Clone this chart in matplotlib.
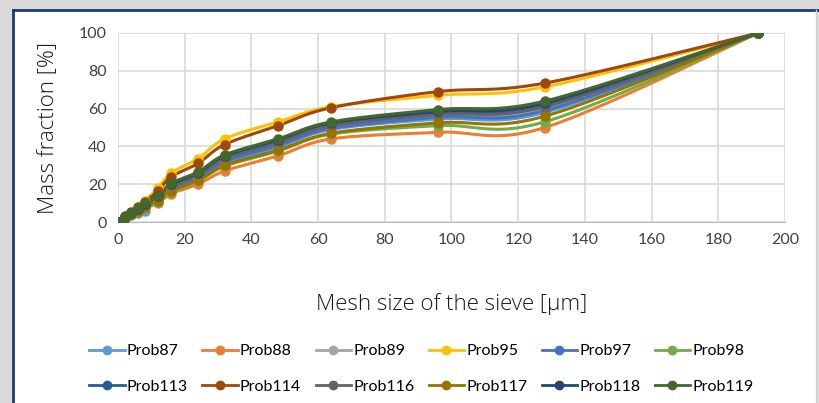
import numpy as np
import matplotlib
matplotlib.use("Agg")
import matplotlib.pyplot as plt
from matplotlib.patches import Rectangle

# ---- data ----
mesh = [0, 2, 4, 6, 8, 12, 16, 24, 32, 48, 64, 96, 128, 192]

series_names = ["Prob87", "Prob88", "Prob89", "Prob95", "Prob97", "Prob98",
                "Prob113", "Prob114", "Prob116", "Prob117", "Prob118", "Prob119"]

prob87  = [0, 2.0, 3.5, 4.5, 6.0, 11.5, 17.0, 23.0, 31.0, 39.5, 49.0, 54.5, 58.0, 100]
prob88  = [0, 2.0, 4.0, 5.5, 7.5, 10.0, 15.0, 20.0, 27.0, 35.0, 44.0, 47.5, 50.0, 100]
prob89  = [0, 2.5, 4.5, 6.5, 9.0, 12.5, 18.0, 24.0, 32.5, 41.0, 50.0, 56.0, 60.0, 100]
prob95  = [0, 3.0, 5.5, 8.0, 11.0, 18.0, 26.0, 33.5, 44.0, 53.0, 61.0, 67.0, 71.5, 100]
prob97  = [0, 2.5, 4.5, 6.5, 8.5, 12.0, 17.5, 23.5, 32.0, 40.5, 49.5, 55.5, 59.0, 100]
prob98  = [0, 2.0, 4.0, 6.0, 8.0, 10.5, 16.0, 21.5, 29.5, 37.5, 46.5, 51.0, 53.0, 100]
prob113 = [0, 2.5, 4.5, 7.0, 9.5, 13.5, 19.5, 25.5, 34.5, 43.0, 52.0, 58.0, 62.0, 100]
prob114 = [0, 3.0, 5.5, 8.0, 10.5, 16.5, 24.0, 31.0, 41.0, 51.0, 60.5, 69.0, 73.5, 100]
prob116 = [0, 2.5, 4.5, 6.5, 9.0, 13.0, 19.0, 25.0, 33.5, 42.0, 51.0, 57.0, 61.0, 100]
prob117 = [0, 2.0, 4.0, 6.0, 8.0, 11.0, 16.5, 22.0, 30.0, 38.0, 47.0, 52.5, 56.0, 100]
prob118 = [0, 2.5, 5.0, 7.0, 9.5, 14.0, 20.0, 26.0, 35.0, 43.5, 52.5, 58.5, 63.0, 100]
prob119 = [0, 2.5, 5.0, 7.5, 10.0, 14.0, 20.5, 26.5, 35.5, 44.0, 53.0, 59.5, 64.0, 100]

values = [prob87, prob88, prob89, prob95, prob97, prob98,
          prob113, prob114, prob116, prob117, prob118, prob119]

colors = ["#5B9BD5", "#ED7D31", "#A5A5A5", "#FFC000", "#4472C4", "#70AD47",
          "#255E91", "#9E480E", "#636363", "#997300", "#264478", "#43682B"]

x_ticks = [0, 20, 40, 60, 80, 100, 120, 140, 160, 180, 200]
y_ticks = [0, 20, 40, 60, 80, 100]


def smooth(xs, ys, n=24):
    """Excel-style smoothed line: cubic Bezier with Catmull-Rom control points."""
    xs = np.asarray(xs, float); ys = np.asarray(ys, float)
    P = np.column_stack([xs, ys])
    out = []
    for i in range(len(P) - 1):
        p0 = P[i - 1] if i > 0 else P[i]
        p1 = P[i]; p2 = P[i + 1]
        p3 = P[i + 2] if i + 2 < len(P) else P[i + 1]
        c1 = p1 + (p2 - p0) / 6.0
        c2 = p2 - (p3 - p1) / 6.0
        t = np.linspace(0, 1, n, endpoint=(i == len(P) - 2))[:, None]
        seg = (1 - t) ** 3 * p1 + 3 * (1 - t) ** 2 * t * c1 + 3 * (1 - t) * t ** 2 * c2 + t ** 3 * p2
        out.append(seg)
    s = np.vstack(out)
    return s[:, 0], s[:, 1]


plt.rcParams['font.family'] = ["Lato", "DejaVu Sans"]

fig = plt.figure(figsize=(8.19, 4.03), dpi=100)

# frame with shadow
fig.patches.append(Rectangle((0, 0), 1, 1, transform=fig.transFigure,
                             facecolor="#d9d9d9", edgecolor="none", zorder=-3))
fig.patches.append(Rectangle((13 / 819, 0), (816 - 13) / 819, 1 - 10 / 403,
                             transform=fig.transFigure, facecolor="white",
                             edgecolor="none", zorder=-2))
fig.lines.append(plt.Line2D([13 / 819, 13 / 819], [0, 1 - 10 / 403],
                            transform=fig.transFigure, color="#1f3a6e", lw=2))
fig.lines.append(plt.Line2D([13 / 819, 1], [1 - 10 / 403, 1 - 10 / 403],
                            transform=fig.transFigure, color="#1f3a6e", lw=2))
fig.lines.append(plt.Line2D([816 / 819, 816 / 819], [0, 1 - 10 / 403],
                            transform=fig.transFigure, color="#d0d0d0", lw=1))

ax = fig.add_axes([118 / 819, 1 - 222 / 403, (785 - 118) / 819, (222 - 33) / 403])
ax.set_facecolor("none")

handles = []
for name, vals, c in zip(series_names, values, colors):
    sx, sy = smooth(mesh, vals)
    ax.plot(sx, sy, color=c, lw=2.2, solid_capstyle="round", zorder=3)
    ax.plot(mesh, vals, linestyle="none", marker="o", ms=6.5, color=c,
            markeredgecolor=c, zorder=4)
    h, = ax.plot([], [], color=c, lw=2, marker="o", ms=6, label=name)
    handles.append(h)

ax.set_xlim(0, 200)
ax.set_ylim(0, 100)
ax.set_xticks(x_ticks)
ax.set_yticks(y_ticks)
ax.grid(True, color="#d9d9d9", lw=1.2)
ax.set_axisbelow(True)
for s in ["top", "right", "left"]:
    ax.spines[s].set_visible(False)
ax.spines["bottom"].set_color("#bfbfbf")
ax.tick_params(length=0, labelsize=11.5, colors="#404040", pad=8)

ax.set_xlabel("Mesh size of the sieve [µm]", fontsize=16, color="#1a1a1a",
              labelpad=33, family=["Open Sans", "DejaVu Sans"], fontweight="light")
ax.set_ylabel("Mass fraction [%]", fontsize=16, color="#1a1a1a",
              labelpad=14, family=["Open Sans", "DejaVu Sans"], fontweight="light")

# row-major ordering for 2 rows x 6 columns
ncol = 6
order = [r * ncol + c for c in range(ncol) for r in range(2)]
ax.legend([handles[i] for i in order], [series_names[i] for i in order],
          loc="upper center", bbox_to_anchor=(0.5 - 30 / 667, -0.57), ncol=ncol,
          frameon=False, fontsize=11.5, handlelength=2.2, handletextpad=0.15,
          columnspacing=0.9, labelspacing=1.35)

fig.savefig("out.png", dpi=100)
